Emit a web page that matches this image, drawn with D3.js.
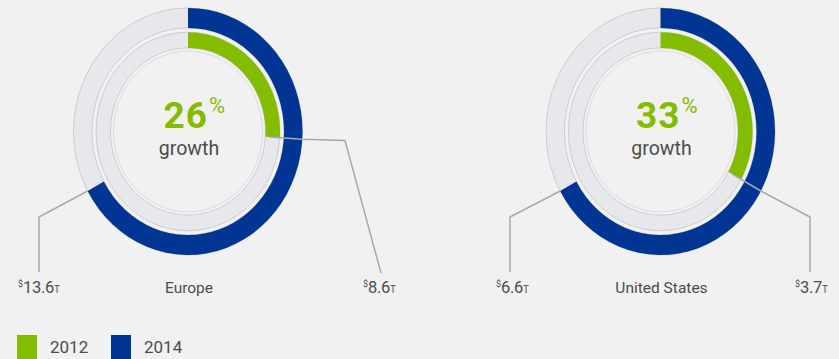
<!DOCTYPE html>
<html>
<head>
<meta charset="utf-8">
<script src="https://cdn.jsdelivr.net/npm/d3@7"></script>
<style>
  html, body { margin: 0; padding: 0; background: #f1f1f1; }
  svg { display: block; }
  text { font-family: Roboto, "Noto Sans", sans-serif; }
</style>
</head>
<body>
<svg id="chart" width="839" height="359"></svg>
<script>
// ---- data ----
const regions = ["Europe", "United States"];
const growthPct = [26, 33];
const share2012 = [0.26, 0.33];   // inner (green) arc, fraction of full circle
const share2014 = [0.67, 0.67];   // outer (blue) arc, fraction of full circle
const leftValues = ["13.6", "6.6"];
const rightValues = ["8.6", "3.7"];
const years = ["2012", "2014"];

// ---- style / layout ----
const colors = { "2012": "#84bd00", "2014": "#003594" };
const ringGray = "#e6e8eb";
const outline = "#c3c6ca";
const textGray = "#4c4c4c";
const W = 839, H = 359;
const cy = 131.5;
const sy = 1.079; // vertical stretch of the donuts
const R = { outerO: 114.5, outerI: 96, innerO: 92, innerI: 77.5 };

const svg = d3.select("#chart");
svg.append("rect").attr("width", W).attr("height", H).attr("fill", "#f1f1f1");

const xPos = d3.scalePoint().domain(regions).range([188, 660.5]);
const ang = d3.scaleLinear().domain([0, 1]).range([0, 2 * Math.PI]);

// leader layout (annotation positions) per region
const leaderLayout = {
  "Europe": { leftElbow: [39, 217], leftEnd: [39, 272], leftLabelX: 18,
              rightElbow: [345, 140.5], rightEnd: [381, 273], rightLabelX: 363 },
  "United States": { leftElbow: [510, 217], leftEnd: [510, 272], leftLabelX: 496,
              rightElbow: [810, 217], rightEnd: [810, 272], rightLabelX: 795 }
};

function pt(cx, a, r) { return [cx + r * Math.sin(a), cy - r * Math.cos(a) * sy]; }

regions.forEach((reg, i) => {
  const cx = xPos(reg);
  const g = svg.append("g").attr("transform", `translate(${cx},${cy}) scale(1,${sy})`);

  const arcOuter = d3.arc().innerRadius(R.outerI).outerRadius(R.outerO);
  const arcInner = d3.arc().innerRadius(R.innerI).outerRadius(R.innerO);

  g.append("path").attr("d", arcOuter({ startAngle: 0, endAngle: 2 * Math.PI }))
    .attr("fill", ringGray).attr("stroke", outline).attr("stroke-width", 0.8)
    .attr("vector-effect", "non-scaling-stroke");
  g.append("path").attr("d", arcInner({ startAngle: 0, endAngle: 2 * Math.PI }))
    .attr("fill", ringGray).attr("stroke", outline).attr("stroke-width", 0.8)
    .attr("vector-effect", "non-scaling-stroke");
  g.append("circle").attr("r", R.innerI - 3).attr("fill", "none")
    .attr("stroke", "#d0d3d6").attr("stroke-width", 0.7)
    .attr("vector-effect", "non-scaling-stroke");
  g.append("path").attr("d", arcOuter({ startAngle: 0, endAngle: ang(share2014[i]) }))
    .attr("fill", colors["2014"]);
  g.append("path").attr("d", arcInner({ startAngle: 0, endAngle: ang(share2012[i]) }))
    .attr("fill", colors["2012"]);

  const L = leaderLayout[reg];
  const line = d3.line();
  const s1 = pt(cx, ang(share2014[i]), R.outerO);
  svg.append("path").attr("d", line([s1, L.leftElbow, L.leftEnd]))
    .attr("fill", "none").attr("stroke", "#a9a9a9").attr("stroke-width", 1.5);
  const s2 = pt(cx, ang(share2012[i]), R.innerO - 10);
  svg.append("path").attr("d", line([s2, pt(cx, ang(share2012[i]), R.outerO), L.rightElbow, L.rightEnd]))
    .attr("fill", "none").attr("stroke", "#a9a9a9").attr("stroke-width", 1.5);

  function valueLabel(x, v) {
    const t = svg.append("text").attr("x", x).attr("y", 293).attr("fill", textGray);
    t.append("tspan").attr("font-size", 9).attr("dy", -6).text("$");
    t.append("tspan").attr("font-size", 16.5).attr("dy", 6).attr("letter-spacing", -0.3).text(v);
    t.append("tspan").attr("font-size", 10).text("T");
  }
  valueLabel(L.leftLabelX, leftValues[i]);
  valueLabel(L.rightLabelX, rightValues[i]);

  svg.append("text").attr("x", cx + 1).attr("y", 293).attr("text-anchor", "middle")
    .attr("font-size", 15.5).attr("fill", textGray).text(reg);

  svg.append("text").attr("x", cx + 20).attr("y", 128).attr("text-anchor", "end")
    .attr("font-size", 37).attr("font-weight", 700).attr("letter-spacing", 1)
    .attr("fill", colors["2012"]).text(growthPct[i]);
  svg.append("text").attr("x", cx + 21).attr("y", 113).attr("text-anchor", "start")
    .attr("font-size", 22).attr("fill", colors["2012"])
    .text("%");
  svg.append("text").attr("x", cx + 1).attr("y", 155).attr("text-anchor", "middle")
    .attr("font-size", 19.5).attr("fill", textGray).text("growth");
});

// legend
const lx = d3.scaleOrdinal().domain(years).range([17, 111]);
years.forEach(y => {
  svg.append("rect").attr("x", lx(y)).attr("y", 335).attr("width", 20).attr("height", 26)
    .attr("fill", colors[y]);
  svg.append("text").attr("x", lx(y) + 33).attr("y", 353).attr("font-size", 17)
    .attr("fill", textGray).text(y);
});
</script>
</body>
</html>
